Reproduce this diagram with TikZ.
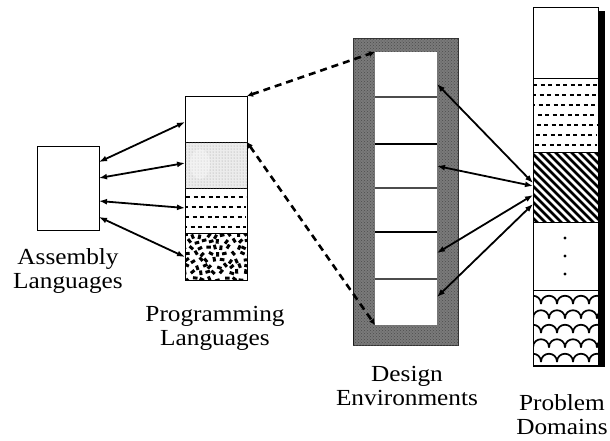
\documentclass[tikz,border=0pt]{standalone}
\usepackage{fontspec}
\setmainfont{Liberation Serif}[FakeStretch=1.1]
\usetikzlibrary{arrows.meta,patterns}

\begin{document}
\begin{tikzpicture}[x=1pt,y=-1pt,
  lbl/.style={font=\fontsize{23}{24}\selectfont, align=center, inner sep=0pt},
  cell/.style={draw=black, line width=0.9pt, inner sep=0pt, outer sep=0pt},
  dcell/.style={fill=white, inner sep=0pt, outer sep=0pt, minimum width=62, minimum height=#1},
  link/.style={line width=1.8pt, {Latex[length=8pt,width=6pt]}-{Latex[length=8pt,width=6pt]}},
  dlink/.style={line width=2.6pt, dash pattern=on 7pt off 5pt,
                {Latex[length=6pt,width=6pt]}-{Latex[length=6pt,width=6pt]}},
  dashrow/.style={line width=#1, dash pattern=on 4pt off 3.5pt}
]
\useasboundingbox (0,0) rectangle (610,440);

% ---------- assembly languages ----------
\node[cell, minimum width=62, minimum height=84] (asm) at (68,188) {};
\node[lbl] (asmlbl) at (68,271) {Assembly\\Languages};

% ---------- programming languages stack ----------
\node[cell, minimum width=62, minimum height=46] (p1) at (216,119) {};
\node[cell, fill=gray!15, minimum width=62, minimum height=46] (p2) at (216,165) {};
\node[cell, minimum width=62, minimum height=45] (p3) at (216,210.5) {};
\node[cell, minimum width=62, minimum height=47] (p4) at (216,256.5) {};
\fill[pattern=dots, pattern color=gray!80] (p2.north west) rectangle (p2.south east);
\fill[white, opacity=0.35] (200,164) ellipse [x radius=10pt, y radius=15pt];
\foreach \r/\o in {197/0,207/2,217/1,227/3}
  \draw[dashrow=2.4pt, dash phase=\o pt] (186,\r) -- (246,\r);
\pgfmathsetseed{42}
\begin{scope}
  \clip (185,233) rectangle (247,280);
  \foreach \r in {0,...,7}
    \foreach \c in {0,...,8} {
      \pgfmathsetmacro\bx{185 + \c*7.5 + mod(\r,2)*3.5 + 2*rand}
      \pgfmathsetmacro\by{235.5 + \r*6.2 + 1.5*rand}
      \pgfmathsetmacro\ang{90*rand}
      \fill[rotate around={\ang:(\bx,\by)}] (\bx-2.3,\by-1.5) rectangle (\bx+2.3,\by+1.5);
    }
\end{scope}
\draw[line width=0.9pt] (p4.north west) rectangle (p4.south east);
\node[lbl] (plbl) at (215,328.5) {Programming\\Languages};

% ---------- design environments ----------
\node[fill=black!52, draw=black!80, line width=0.8pt, inner sep=0pt,
      minimum width=105, minimum height=307] (de) at (405.5,191.5) {};
\fill[pattern=crosshatch dots, pattern color=black!70] (353,38) rectangle (458,345);
\draw[line width=1.6pt, black!90] (353.5,100) -- (353.5,345);
\node[dcell=45] (d1) at (406,74.5) {};
\node[dcell=47] (d2) at (406,120.5) {};
\node[dcell=44] (d3) at (406,166) {};
\node[dcell=44] (d4) at (406,210) {};
\node[dcell=47] (d5) at (406,255.5) {};
\node[dcell=46] (d6) at (406,302) {};
\foreach \a in {d1,d3,d5}
  \draw[line width=1.2pt, gray!60!black] (\a.south west) -- (\a.south east);
\foreach \a in {d2,d4}
  \draw[line width=1.2pt, black] (\a.south west) -- (\a.south east);
\node[lbl] (delbl) at (407,386) {Design\\Environments};

% ---------- problem domains stack ----------
\fill (598,11) rectangle (604.5,367);
\node[cell, minimum width=65, minimum height=71] (q1) at (565.5,42.5) {};
\node[cell, minimum width=65, minimum height=74] (q2) at (565.5,115) {};
\node[cell, minimum width=65, minimum height=70] (q3) at (565.5,187) {};
\node[cell, minimum width=65, minimum height=68] (q4) at (565.5,256) {};
\node[cell, minimum width=65, minimum height=76] (q5) at (565.5,328) {};
\foreach \r [count=\i] in {85,95,105,115,125,135,145}
  \draw[dashrow=1.7pt, dash phase=\i pt] (534,\r) -- (597,\r);
\begin{scope}
  \clip (q3.north west) rectangle (q3.south east);
  \foreach \k in {-84,-76,...,70}
    \draw[line width=2.8pt] (533+\k,150) -- (533+\k+74,224);
\end{scope}
\draw[line width=0.9pt] (q3.north west) rectangle (q3.south east);
\foreach \r in {238,256,274}
  \fill (565,\r) circle[radius=1.6pt];
\begin{scope}
  \clip (q5.north west) rectangle (q5.south east);
  \foreach \i in {0,...,5} {
    \pgfmathsetmacro\ry{304 + \i*14.5}
    \pgfmathsetmacro\ox{525 + mod(\i,2)*8}
    \foreach \c in {0,...,5}
      \draw[line width=1.7pt] (\ox+\c*16,\ry) .. controls (\ox+\c*16,\ry-11) and (\ox+\c*16+16,\ry-11) .. (\ox+\c*16+16,\ry);
  }
\end{scope}
\draw[line width=0.9pt] (q5.north west) rectangle (q5.south east);
\draw[line width=2.2pt] (533,366) -- (604.5,366);
\node[lbl] (qlbl) at (562,415) {Problem\\Domains};

% ---------- connectors ----------
\draw[link] ([yshift=26pt]asm.east) -- ([yshift=-3pt]p1.west);
\draw[link] ([yshift=10pt]asm.east) -- ([yshift=2pt]p2.west);
\draw[link] ([yshift=-13pt]asm.east) -- ([yshift=2.5pt]p3.west);
\draw[link] ([yshift=-29pt]asm.east) -- ([yshift=-0.5pt]p4.west);

\draw[dlink] (p1.north east) -- (d1.north west);
\draw[dlink] (p2.north east) -- (d6.south west);

\draw[link] ([yshift=-9.5pt]d1.east) -- ([yshift=4pt]q3.west);
\draw[link] (d3.east) -- ([yshift=1pt]q3.west);
\draw[link] ([yshift=2.5pt]d5.east) -- ([yshift=-8pt]q3.west);
\draw[link] ([yshift=5pt]d6.east) -- ([yshift=-17pt]q3.west);
\end{tikzpicture}
\end{document}
